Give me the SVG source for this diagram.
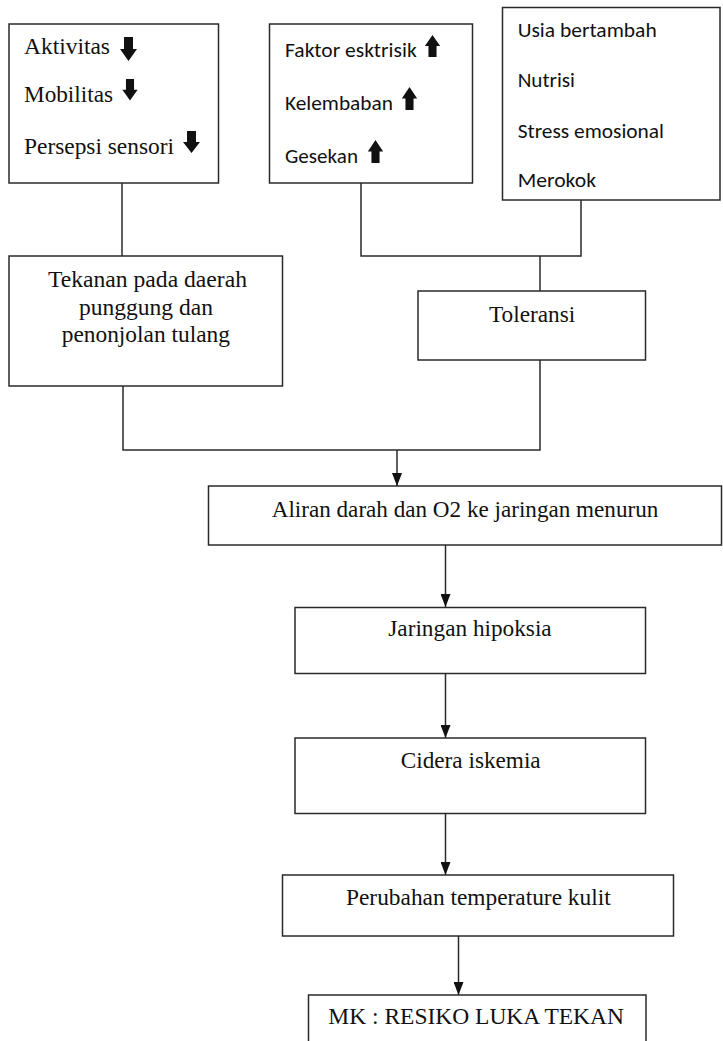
<svg xmlns="http://www.w3.org/2000/svg" width="723" height="1041" viewBox="0 0 723 1041">
<style>
.box{fill:#fff;stroke:#2a2a2a;stroke-width:1.5}
.ser{font-family:"Liberation Serif","Times New Roman",serif;font-size:24px;fill:#111}
.san{font-family:Carlito,Calibri,Lato,"Open Sans",sans-serif;font-size:20px;fill:#111}
.ln{fill:none;stroke:#2a2a2a;stroke-width:1.5}
.ic{fill:#111}
</style>
<defs>
<marker id="arr" markerUnits="userSpaceOnUse" markerWidth="13" markerHeight="10" viewBox="0 0 13 10" refX="13" refY="5" orient="auto">
<path d="M0,0 L13,5 L0,10 Z" fill="#111"/>
</marker>
<path id="dn" d="M-4.5,0 H4.5 V12 H8.5 L0,24 L-8.5,12 H-4.5 Z"/>
<path id="up" d="M-4.5,24 H4.5 V12 H8.5 L0,0 L-8.5,12 H-4.5 Z"/>
</defs>
<rect width="723" height="1041" fill="#fff"/>

<g id="connectors">
<path class="ln" d="M122,183 V256"/>
<path class="ln" d="M361,183 V256 H581 V200"/>
<path class="ln" d="M540,256 V291"/>
<path class="ln" d="M123,386 V450 H540 V360"/>
<path class="ln" d="M397,450 V486" marker-end="url(#arr)"/>
<path class="ln" d="M445.5,545 V607" marker-end="url(#arr)"/>
<path class="ln" d="M445.5,673 V738" marker-end="url(#arr)"/>
<path class="ln" d="M445.5,813 V875" marker-end="url(#arr)"/>
<path class="ln" d="M458.5,936 V995" marker-end="url(#arr)"/>
</g>

<g id="node-faktor-intrinsik">
<rect class="box" x="9" y="24" width="209.5" height="159"/>
<text class="ser" x="24" y="54" textLength="86" lengthAdjust="spacingAndGlyphs">Aktivitas</text>
<use href="#dn" class="ic" transform="translate(128.5 37)"/>
<text class="ser" x="24" y="101.5" textLength="89" lengthAdjust="spacingAndGlyphs">Mobilitas</text>
<use href="#dn" class="ic" transform="translate(130 79) scale(0.9 0.9)"/>
<text class="ser" x="24" y="154" textLength="150" lengthAdjust="spacingAndGlyphs">Persepsi sensori</text>
<use href="#dn" class="ic" transform="translate(191.5 131) scale(1 0.92)"/>
</g>

<g id="node-faktor-ekstrinsik">
<rect class="box" x="269.5" y="24" width="203" height="159"/>
<text class="san" x="285" y="56.7" textLength="131.7" lengthAdjust="spacingAndGlyphs">Faktor esktrisik</text>
<use href="#up" class="ic" transform="translate(432.5 35) scale(0.9 0.92)"/>
<text class="san" x="285" y="110" textLength="108" lengthAdjust="spacingAndGlyphs">Kelembaban</text>
<use href="#up" class="ic" transform="translate(409.5 87) scale(0.9 0.96)"/>
<text class="san" x="285" y="163" textLength="73" lengthAdjust="spacingAndGlyphs">Gesekan</text>
<use href="#up" class="ic" transform="translate(375.5 140) scale(0.9 0.96)"/>
</g>

<g id="node-faktor-lain">
<rect class="box" x="502.5" y="7.5" width="217.5" height="192.5"/>
<text class="san" x="517.7" y="36.7" textLength="139" lengthAdjust="spacingAndGlyphs">Usia bertambah</text>
<text class="san" x="517.7" y="86.7" textLength="57.3" lengthAdjust="spacingAndGlyphs">Nutrisi</text>
<text class="san" x="517.7" y="137.7" textLength="146.3" lengthAdjust="spacingAndGlyphs">Stress emosional</text>
<text class="san" x="517.7" y="186.7" textLength="78.3" lengthAdjust="spacingAndGlyphs">Merokok</text>
</g>

<g id="node-tekanan">
<rect class="box" x="9" y="256" width="273.5" height="130"/>
<text class="ser" x="48" y="286.7" textLength="199" lengthAdjust="spacingAndGlyphs">Tekanan pada daerah</text>
<text class="ser" x="79" y="315" textLength="134" lengthAdjust="spacingAndGlyphs">punggung dan</text>
<text class="ser" x="61.7" y="341.7" textLength="168.3" lengthAdjust="spacingAndGlyphs">penonjolan tulang</text>
</g>

<g id="node-toleransi">
<rect class="box" x="418" y="291" width="227.5" height="69"/>
<text class="ser" x="489" y="321.7" textLength="86.3" lengthAdjust="spacingAndGlyphs">Toleransi</text>
</g>

<g id="node-aliran">
<rect class="box" x="208.5" y="486" width="513" height="59"/>
<text class="ser" x="271.7" y="516.7" textLength="386.6" lengthAdjust="spacingAndGlyphs">Aliran darah dan O2 ke jaringan menurun</text>
</g>

<g id="node-hipoksia">
<rect class="box" x="295" y="607.5" width="350.5" height="66"/>
<text class="ser" x="388.3" y="636" textLength="163.4" lengthAdjust="spacingAndGlyphs">Jaringan hipoksia</text>
</g>

<g id="node-iskemia">
<rect class="box" x="295" y="738" width="350.5" height="75.5"/>
<text class="ser" x="400.7" y="768.3" textLength="140" lengthAdjust="spacingAndGlyphs">Cidera iskemia</text>
</g>

<g id="node-temperatur">
<rect class="box" x="282.5" y="875" width="391" height="61"/>
<text class="ser" x="346" y="905" textLength="264.7" lengthAdjust="spacingAndGlyphs">Perubahan temperature kulit</text>
</g>

<g id="node-mk">
<rect class="box" x="308.5" y="995" width="337.5" height="60"/>
<text class="ser" x="328.3" y="1024" textLength="295.7" lengthAdjust="spacingAndGlyphs">MK : RESIKO LUKA TEKAN</text>
</g>
</svg>
